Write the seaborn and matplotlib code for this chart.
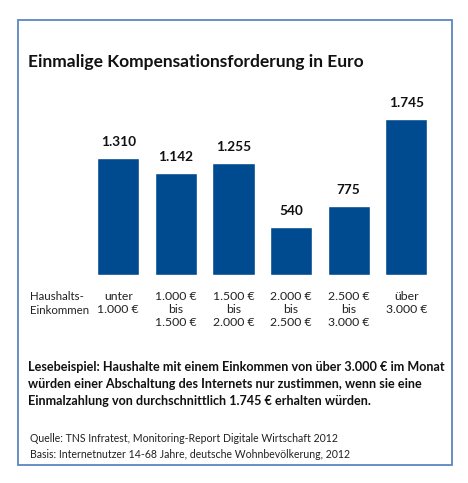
import matplotlib
matplotlib.use("Agg")
import matplotlib.pyplot as plt
import seaborn as sns
import pandas as pd
from matplotlib.patches import Rectangle

categories = ["unter\n1.000 €", "1.000 €\nbis\n1.500 €", "1.500 €\nbis\n2.000 €",
              "2.000 €\nbis\n2.500 €", "2.500 €\nbis\n3.000 €", "über\n3.000 €"]
values = [1310, 1142, 1255, 540, 775, 1745]
title = "Einmalige Kompensationsforderung in Euro"
row_label = "Haushalts-\nEinkommen"
note = ("Lesebeispiel: Haushalte mit einem Einkommen von über 3.000 € im Monat\n"
        "würden einer Abschaltung des Internets nur zustimmen, wenn sie eine\n"
        "Einmalzahlung von durchschnittlich 1.745 € erhalten würden.")
source = ("Quelle: TNS Infratest, Monitoring-Report Digitale Wirtschaft 2012\n"
          "Basis: Internetnutzer 14-68 Jahre, deutsche Wohnbevölkerung, 2012")

sns.set_theme(style="white")
FONT = ["Lato", "DejaVu Sans"]
plt.rcParams["font.family"] = FONT

W, H = 468, 483
fig = plt.figure(figsize=(W / 100, H / 100), dpi=100)
fig.patch.set_facecolor("white")

def fx(px):
    return px / W

def fy(py):
    return 1 - py / H

# frame
fig.patches.append(Rectangle((fx(18), fy(465)), fx(452) - fx(18), (465 - 20) / H,
                             transform=fig.transFigure, fill=False,
                             edgecolor="#5b87c0", linewidth=1.3))

ax = fig.add_axes([fx(89.5), fy(275), fx(435.1) - fx(89.5), 178.8 / H])
df = pd.DataFrame({"cat": categories, "val": values})
sns.barplot(data=df, x="cat", y="val", color="#004a8f", saturation=1,
            width=0.73, ax=ax)
ax.set_ylim(0, 2000)
ax.set_xlim(-0.5, 5.5)
for s in ax.spines.values():
    s.set_visible(False)
ax.set_yticks([])
ax.set_xlabel("")
ax.set_ylabel("")
ax.tick_params(axis="x", length=0, pad=11.5, labelsize=8.8, colors="#222222")
for lab in ax.get_xticklabels():
    lab.set_multialignment("center")
    lab.set_linespacing(1.2)

ax.bar_label(ax.containers[0], labels=[f"{v:,.0f}".replace(",", ".") for v in values],
             padding=7, fontsize=9.8, fontweight="bold", color="#111111")

fig.text(fx(28), fy(62), title, fontsize=12.5, fontweight="bold",
         va="center", ha="left", color="#111111")
fig.text(fx(30), fy(291), row_label, fontsize=8.3, va="top", ha="left",
         color="#222222", linespacing=1.3)
fig.text(fx(28), fy(361), note, fontsize=9.1, fontweight="bold",
         va="top", ha="left", color="#111111", linespacing=1.52)
fig.text(fx(30), fy(433), source, fontsize=7.6, va="top", ha="left",
         color="#222222", linespacing=1.5)

fig.savefig("out.png", dpi=100, facecolor="white")
